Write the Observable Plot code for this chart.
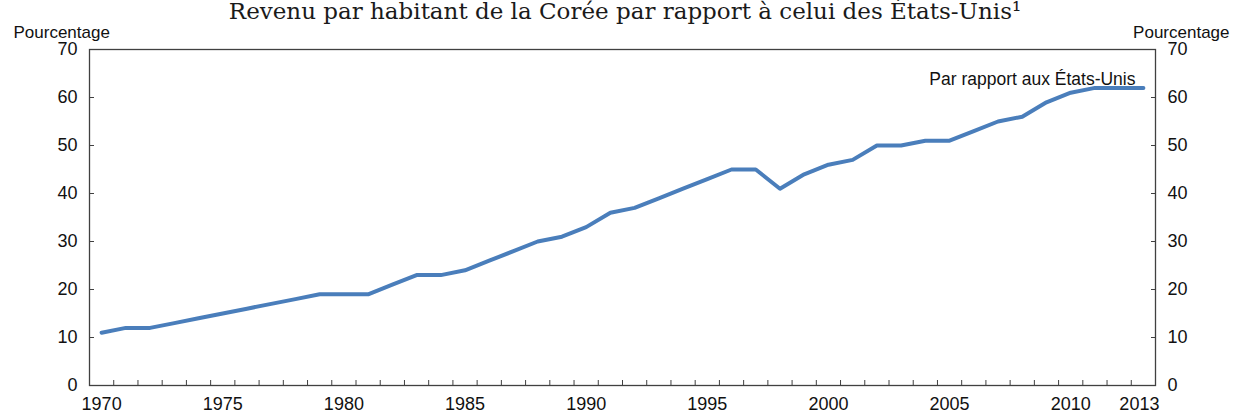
<!DOCTYPE html>
<html><head><meta charset="utf-8">
<script src="https://cdn.jsdelivr.net/npm/d3@7"></script>
<script src="https://cdn.jsdelivr.net/npm/@observablehq/plot@0.6"></script>
<style>
html,body{margin:0;padding:0;background:#fff;overflow:hidden}
#wrap{position:relative;width:1233px;height:414px}
#title{position:absolute;left:0;top:0px;width:1250px;text-align:center;font-family:"DejaVu Serif";font-size:23px;line-height:1;color:#1a1a1a;white-space:nowrap}
</style></head><body>
<div id="wrap"><div id="chart"></div><div id="title">Revenu par habitant de la Corée par rapport à celui des États-Unis¹</div></div>
<script>
const years = [1970,1971,1972,1973,1974,1975,1976,1977,1978,1979,1980,1981,1982,1983,1984,1985,1986,1987,1988,1989,1990,1991,1992,1993,1994,1995,1996,1997,1998,1999,2000,2001,2002,2003,2004,2005,2006,2007,2008,2009,2010,2011,2012,2013];
const values = [11,12,12,13,14,15,16,17,18,19,19,19,21,23,23,24,26,28,30,31,33,36,37,39,41,43,45,45,41,44,46,47,50,50,51,51,53,55,56,59,61,62,62,62];
const xTickLabels = [1970,1975,1980,1985,1990,1995,2000,2005,2010];
const xLastLabel = [2013];
const yTicks = [0,10,20,30,40,50,60,70];
const seriesLabel = "Par rapport aux États-Unis";
const unitLabel = "Pourcentage";

const data = years.map((year, i) => ({year, value: values[i]}));
const bandEdges = years.slice(0, -1).map(y => y + 0.5);
const axisColor = "#404040";
const font = "Liberation Sans, Arial, sans-serif";

const chart = Plot.plot({
  width: 1233,
  height: 414,
  marginLeft: 89,
  marginRight: 78,
  marginTop: 49,
  marginBottom: 29,
  style: {fontFamily: font, color: "#111", background: "#fff", overflow: "visible"},
  x: {type: "linear", domain: [years[0] - 0.5, years[years.length - 1] + 0.5]},
  y: {domain: [0, 70]},
  marks: [
    Plot.frame({stroke: axisColor, strokeWidth: 1.3}),
    Plot.axisX({ticks: bandEdges, tickSize: -5, tickFormat: () => "", stroke: axisColor, label: null}),
    Plot.axisX({ticks: xTickLabels, tickSize: 0, tickPadding: 12, fontSize: 18, tickFormat: d => String(d), label: null}),
    Plot.axisX({ticks: xLastLabel, tickSize: 0, tickPadding: 12, fontSize: 18, dx: -4, tickFormat: d => String(d), label: null}),
    Plot.axisY({anchor: "left", ticks: yTicks, tickSize: -5, tickFormat: () => "", stroke: axisColor, label: null}),
    Plot.axisY({anchor: "right", ticks: yTicks, tickSize: -5, tickFormat: () => "", stroke: axisColor, label: null}),
    Plot.axisY({anchor: "left", ticks: yTicks, tickSize: 0, tickPadding: 12, fontSize: 18, label: null}),
    Plot.axisY({anchor: "right", ticks: yTicks, tickSize: 0, tickPadding: 12, fontSize: 18, label: null}),
    Plot.lineY(data, {x: "year", y: "value", stroke: "#4A7EBB", strokeWidth: 4}),
    Plot.text([seriesLabel], {text: d => d, frameAnchor: "top-right", textAnchor: "end", dx: -20, dy: 23, fontSize: 17.5}),
    Plot.text([unitLabel], {text: d => d, frameAnchor: "top-left", textAnchor: "start", dx: -76, dy: -24, fontSize: 17}),
    Plot.text([unitLabel], {text: d => d, frameAnchor: "top-right", textAnchor: "end", dx: 74, dy: -24, fontSize: 17})
  ]
});
document.getElementById("chart").appendChild(chart);
</script>
</body></html>
